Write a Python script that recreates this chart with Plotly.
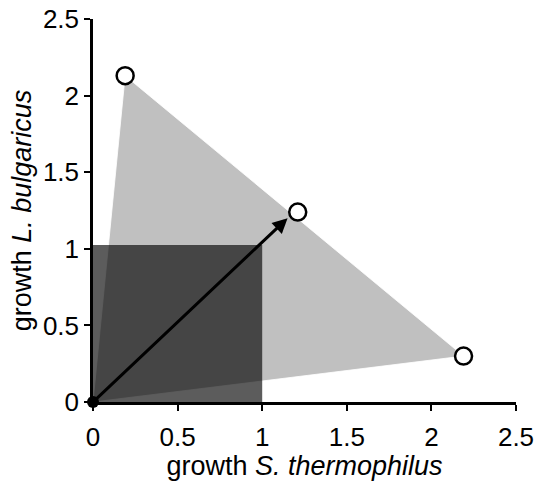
import plotly.graph_objects as go

# data
triangle_x = [0.0, 0.19, 2.19, 0.0]
triangle_y = [0.0, 2.13, 0.30, 0.0]
square_x = [0.0, 1.0, 1.0, 0.0, 0.0]
square_y = [0.0, 0.0, 1.025, 1.025, 0.0]
open_x = [0.19, 1.21, 2.19]
open_y = [2.13, 1.24, 0.30]
origin_x = [0.0]
origin_y = [0.0]
arrow_end = (1.15, 1.20)
ticks = [0, 0.5, 1, 1.5, 2, 2.5]
tick_text = ["0", "0.5", "1", "1.5", "2", "2.5"]

fig = go.Figure()
fig.add_trace(go.Scatter(x=triangle_x, y=triangle_y, mode="lines", fill="toself",
                         fillcolor="#c0c0c0", line=dict(color="rgba(255,255,255,0.8)", width=1),
                         hoverinfo="skip", showlegend=False))
fig.add_trace(go.Scatter(x=square_x, y=square_y, mode="lines", fill="toself",
                         fillcolor="rgba(0,0,0,0.64)", line=dict(width=0),
                         hoverinfo="skip", showlegend=False))
fig.add_annotation(x=arrow_end[0], y=arrow_end[1], ax=0, ay=0, xref="x", yref="y",
                   axref="x", ayref="y", showarrow=True, arrowhead=2, arrowsize=1,
                   arrowwidth=3, arrowcolor="black", text="")
fig.add_trace(go.Scatter(x=open_x, y=open_y, mode="markers", cliponaxis=False,
                         marker=dict(size=17, color="white", line=dict(color="black", width=2.5)),
                         showlegend=False))
fig.add_trace(go.Scatter(x=origin_x, y=origin_y, mode="markers", cliponaxis=False,
                         marker=dict(size=12, color="black"), showlegend=False))

tick_font = dict(family="Arial, Liberation Sans, sans-serif", size=26, color="black")
title_font = dict(family="Arial, Liberation Sans, sans-serif", size=27, color="black")
fig.update_layout(
    width=541, height=481,
    margin=dict(l=93, r=25, t=19, b=79, autoexpand=False),
    paper_bgcolor="white", plot_bgcolor="white",
    font=tick_font,
)
fig.update_xaxes(range=[0, 2.5], tickvals=ticks, ticktext=tick_text, showgrid=False,
                 zeroline=False, showline=True, linecolor="black", linewidth=2.5,
                 ticks="outside", ticklen=6, tickwidth=2, tickcolor="black",
                 tickfont=tick_font, ticklabelstandoff=4, automargin=False,
                 title=dict(text="growth <i>S. thermophilus</i>", standoff=0, font=title_font))
fig.update_yaxes(range=[0, 2.5], tickvals=ticks, ticktext=tick_text, showgrid=False,
                 zeroline=False, showline=True, linecolor="black", linewidth=2.5,
                 ticks="outside", ticklen=6, tickwidth=2, tickcolor="black",
                 tickfont=tick_font, automargin=False,
                 title=dict(text="growth <i>L. bulgaricus</i>", standoff=4, font=title_font))
fig.write_html("out.html")
